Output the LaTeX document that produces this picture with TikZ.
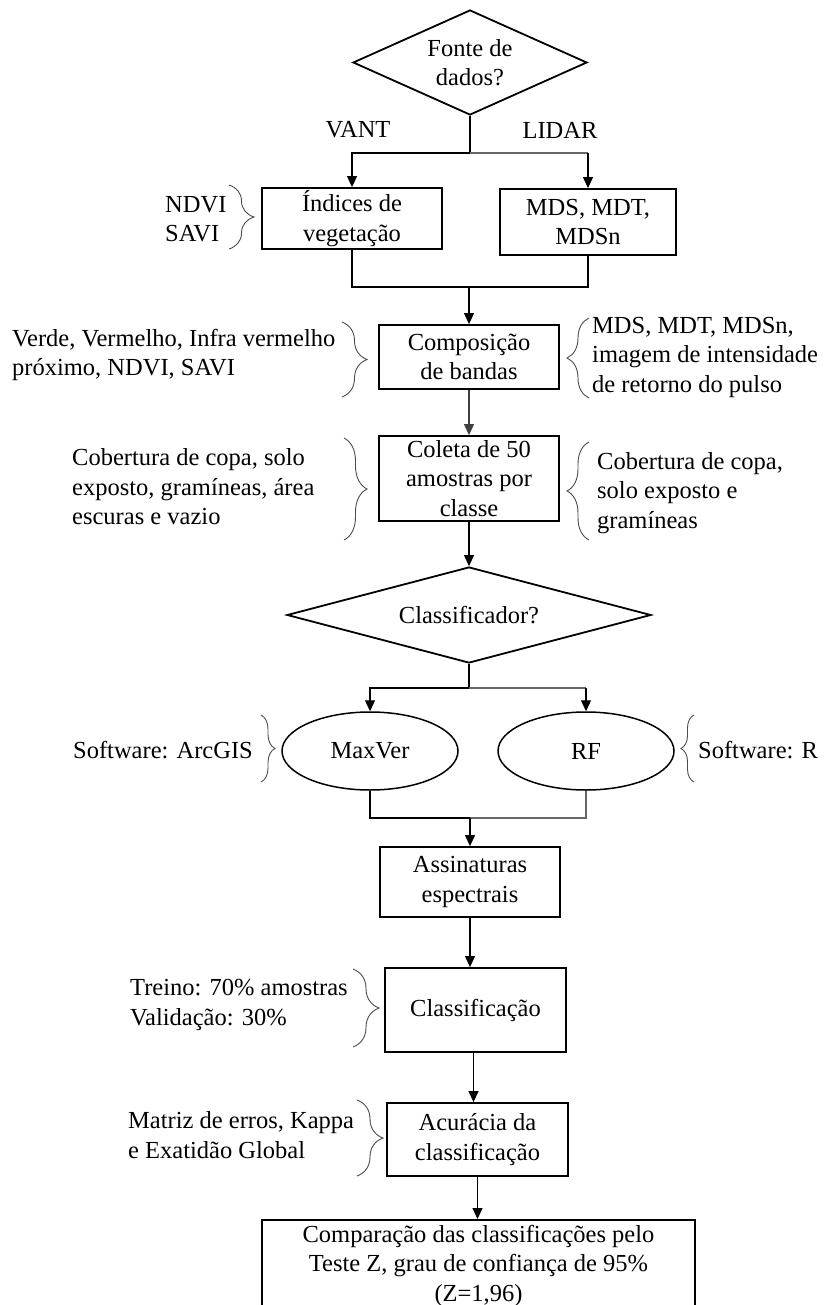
\documentclass[tikz,border=0pt]{standalone}
\usepackage{fontspec}
\setmainfont{Liberation Serif}
\usetikzlibrary{shapes.geometric,arrows.meta,decorations.pathreplacing,calc}
\newcommand\myfs{\fontsize{24.5}{29.5}\selectfont}
\begin{document}
\begin{tikzpicture}[x=1pt,y=-1pt,
  box/.style={draw, line width=1.8pt, align=center, inner sep=0pt, font=\myfs},
  dia/.style={draw, diamond, line width=1.8pt, align=center, inner sep=0pt, font=\myfs},
  ell/.style={draw, ellipse, line width=1.5pt, align=center, inner sep=0pt, font=\myfs},
  lbl/.style={inner sep=0pt, font=\myfs},
  ann/.style={inner sep=0pt, align=left, anchor=west, font=\myfs},
  conn/.style={line width=1.1pt},
  arr/.style={conn, -{Triangle[length=11pt,width=10pt]}},
  brc/.style={draw=black!70, line width=0.9pt, decorate, decoration={brace, amplitude=#1}}
]
\useasboundingbox (0,0) rectangle (823,1305);
\clip (0,0) rectangle (823,1305);

% main nodes
\node[dia, aspect=2.23, minimum width=234pt, minimum height=105pt] (d1) at (470,62.5) {Fonte de\\dados?};
\node[lbl] (vant) at (358,130) {VANT};
\node[lbl] (lidar) at (560,130) {LIDAR};
\node[box, minimum width=180pt, minimum height=61pt] (ind) at (352,218.5) {Índices de\\vegetação};
\node[box, minimum width=176pt, minimum height=66pt] (mds) at (588,222) {MDS, MDT,\\MDSn};
\node[box, minimum width=180pt, minimum height=64pt] (comp) at (469,357) {Composição\\de bandas};
\node[box, minimum width=180pt, minimum height=85pt] (col) at (469,478.5) {Coleta de 50\\amostras por\\classe};
\node[dia, aspect=3.79, minimum width=364pt, minimum height=96pt] (d2) at (469,615) {Classificador?};
\node[ell, minimum width=176pt, minimum height=78pt] (mv) at (370,751) {MaxVer};
\node[ell, minimum width=176pt, minimum height=78pt] (rf) at (586,751) {RF};
\node[box, minimum width=180pt, minimum height=70pt] (asn) at (470,882) {Assinaturas\\espectrais};
\node[box, minimum width=181pt, minimum height=84pt] (cls) at (475.5,1010) {Classificação};
\node[box, minimum width=181pt, minimum height=73pt] (acc) at (477.5,1139.5) {Acurácia da\\classificação};
\node[box, minimum width=433pt, inner ysep=5pt, text depth=30pt, anchor=north] (cmp) at (478.5,1219)
  {Comparação das classificações pelo\\Teste Z, grau de confiança de 95\%\\(Z=1,96)};

% connectors
\coordinate (j1) at (470,153);
\draw[conn] (d1.south) -- (j1);
\draw[arr] (j1) -| (ind.north);
\draw[conn, black!60] (j1) -- (j1 -| mds.north);
\draw[arr] (j1 -| mds.north) -- (mds.north);

\coordinate (j2) at (469,287);
\draw[conn] (ind.south) |- (j2);
\draw[conn] (mds.south) |- (j2);
\draw[arr] (j2) -- (comp.north);
\draw[arr, black!75] (comp.south) -- (col.north);
\draw[arr] (col.south) -- (d2.north);

\coordinate (j3) at (469,688);
\draw[conn] (d2.south) -- (j3);
\draw[arr] (j3) -| (mv.north);
\draw[conn, black!60] (j3) -- (j3 -| rf.north);
\draw[arr] (j3 -| rf.north) -- (rf.north);

\coordinate (j4) at (470,818);
\draw[conn] (mv.south) |- (j4);
\draw[conn, black!60] (rf.south) |- (j4);
\draw[arr] (j4) -- (asn.north);
\draw[arr] (asn.south) -- (asn.south |- cls.north);
\draw[arr] ($(cls.south)+(-2,0)$) -- ($(cls.south |- acc.north)+(-2,0)$);
\draw[arr] (acc.south) -- (acc.south |- cmp.north);

% annotations
\node[ann] (a1) at (165,219) {NDVI\\SAVI};
\node[ann] (a2) at (12,355) {Verde, Vermelho, Infra vermelho\\próximo, NDVI, SAVI};
\node[ann] (a3) at (72,487) {Cobertura de copa, solo\\exposto, gramíneas, área\\escuras e vazio};
\node[ann] (a4) at (592,357) {MDS, MDT, MDSn,\\imagem de intensidade\\de retorno do pulso};
\node[ann] (a5) at (597,493) {Cobertura de copa,\\solo exposto e\\gramíneas};
\node[ann] (a6) at (73,750) {Software: ArcGIS};
\node[ann] (a7) at (698,750) {Software: R};
\node[ann] (a8) at (130,1005) {Treino: 70\% amostras\\Validação: 30\%};
\node[ann] (a9) at (128,1135) {Matriz de erros, Kappa\\e Exatidão Global};

% braces
\draw[brc=25pt] (229,185) -- (229,249);
\draw[brc=25pt] (342,322) -- (342,397);
\draw[brc=23pt] (344,438) -- (344,540);
\draw[brc=22pt] (589,398) -- (589,318);
\draw[brc=22pt] (589,540) -- (589,442);
\draw[brc=14pt] (261,715) -- (261,782);
\draw[brc=13pt] (694,782) -- (694,715);
\draw[brc=26pt] (353,969) -- (353,1047);
\draw[brc=26pt] (357,1100) -- (357,1176);
\end{tikzpicture}
\end{document}
